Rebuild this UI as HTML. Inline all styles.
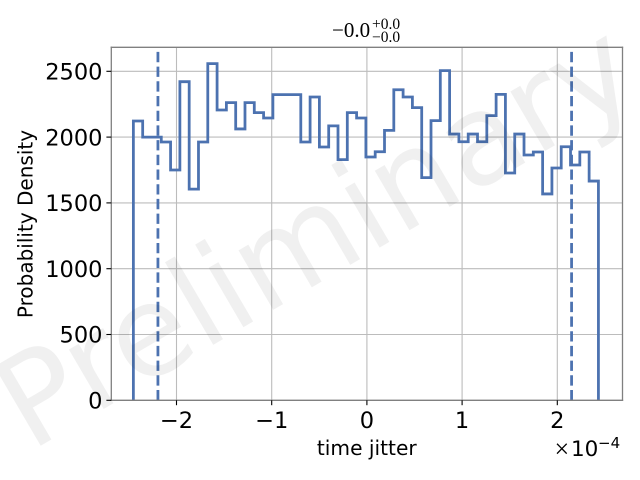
<!DOCTYPE html>
<html>
<head>
<meta charset="utf-8">
<style>
html,body{margin:0;padding:0;background:#fff;width:640px;height:480px;overflow:hidden}
svg{display:block}
text{font-family:"DejaVu Sans",sans-serif;fill:#000}
.serif{font-family:"Liberation Serif",serif}
</style>
</head>
<body>
<svg id="chart" xmlns="http://www.w3.org/2000/svg" width="640" height="480" viewBox="0 0 640 480">
  <rect x="0" y="0" width="640" height="480" fill="#fff"/>
  <g id="grid"></g>
  <g id="marks"></g>
  <g id="spines"></g>
  <g id="ticks"></g>
  <text x="366.8" y="455" font-size="20.2" text-anchor="middle">time jitter</text>
  <text transform="translate(32.5,224) rotate(-90)" font-size="20" text-anchor="middle">Probability Density</text>
  <g>
    <text class="serif" x="554.5" y="457.5" font-size="26">×</text>
    <text x="571" y="456" font-size="21.5">10</text>
    <text x="598" y="448" font-size="15">−4</text>
  </g>
  <g>
    <text class="serif" x="332" y="37" font-size="21">−0.0</text>
    <text class="serif" x="372" y="29" font-size="15.5">+0.0</text>
    <text class="serif" x="372" y="42" font-size="15.5">−0.0</text>
  </g>
  <text transform="translate(30,452) rotate(-30.3)" font-size="126" text-anchor="start" style="fill:#000;fill-opacity:.06">Preliminary</text>
</svg>
<script>
const binValues = [2122,2000,2000,1963,1750,2421,1605,1963,2558,2206,2262,2062,2262,2186,2145,2323,2323,2323,1963,2305,1925,2085,1829,2186,2145,1849,1889,2051,2360,2305,2224,1692,2125,2505,2023,1965,2023,1965,2163,2325,1727,2023,1864,1887,1568,1765,1927,1788,1887,1666];
const binStart = -2.453;
const binEnd = 2.432;
const dashedLines = [-2.195, 2.15];
const xTicks = [-2,-1,0,1,2];
const xTickLabels = ["−2","−1","0","1","2"];
const yTicks = [0,500,1000,1500,2000,2500];
const yTickLabels = ["0","500","1000","1500","2000","2500"];

const NS = "http://www.w3.org/2000/svg";
const plotLeft = 111.3, plotRight = 622.5, plotTop = 47.3, plotBottom = 400.3;
function xScale(v){ return 366.9 + v * 95.2; }
function yScale(v){ return plotBottom - v * 0.1316; }
function make(parent, tag, attrs){
  const el = document.createElementNS(NS, tag);
  for (const k in attrs) el.setAttribute(k, attrs[k]);
  parent.appendChild(el);
  return el;
}
const gridG = document.getElementById('grid');
const marksG = document.getElementById('marks');
const spinesG = document.getElementById('spines');
const ticksG = document.getElementById('ticks');

xTicks.forEach(function(t, i){
  const x = xScale(t);
  const g = make(gridG, 'line', {x1:x, x2:x, y1:plotTop, y2:plotBottom, stroke:'#bcbcbc', 'stroke-width':1.1});
  
  
  const m = make(ticksG, 'line', {x1:x, x2:x, y1:plotBottom, y2:plotBottom + 4.9, stroke:'#000', 'stroke-width':1.1});
  
  
  const l = make(ticksG, 'text', {x:x, y:428, 'font-size':22.5, 'text-anchor':'middle'});
  
  
  l.textContent = xTickLabels[i];
});
yTicks.forEach(function(t, i){
  const y = yScale(t);
  const g = make(gridG, 'line', {x1:plotLeft, x2:plotRight, y1:y, y2:y, stroke:'#bcbcbc', 'stroke-width':1.1});
  
  
  const m = make(ticksG, 'line', {x1:plotLeft - 4.9, x2:plotLeft, y1:y, y2:y, stroke:'#000', 'stroke-width':1.1});
  
  
  const l = make(ticksG, 'text', {x:102.5, y:y + 8.2, 'font-size':22.5, 'text-anchor':'end'});
  
  
  l.textContent = yTickLabels[i];
});

const binWidth = (binEnd - binStart) / binValues.length;
let d = 'M' + xScale(binStart) + ' ' + yScale(0);
binValues.forEach(function(v, i){
  d += ' L' + xScale(binStart + i * binWidth) + ' ' + yScale(v);
  d += ' L' + xScale(binStart + (i + 1) * binWidth) + ' ' + yScale(v);
});
d += ' L' + xScale(binEnd) + ' ' + yScale(0);
const hist = make(marksG, 'path', {d:d, fill:'none', stroke:'#4c72b0', 'stroke-width':2.78, 'stroke-linejoin':'miter'});



dashedLines.forEach(function(v){
  const x = xScale(v);
  const ln = make(marksG, 'line', {x1:x, x2:x, y1:yScale(0), y2:plotTop, stroke:'#4c72b0', 'stroke-width':2.78, 'stroke-dasharray':'10.3 4.4'});
  
  
});

[[plotLeft,plotTop,plotRight,plotTop],[plotLeft,plotBottom,plotRight,plotBottom],[plotLeft,plotTop,plotLeft,plotBottom],[plotRight,plotTop,plotRight,plotBottom]].forEach(function(s){
  const sp = make(spinesG, 'line', {x1:s[0], y1:s[1], x2:s[2], y2:s[3], stroke:'#808080', 'stroke-width':1.3, 'stroke-linecap':'square'});
  
  
});
</script>
</body>
</html>
